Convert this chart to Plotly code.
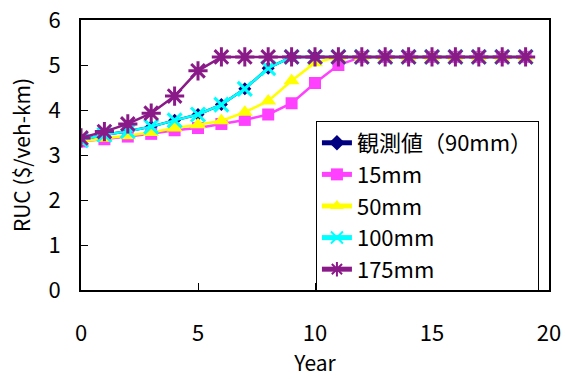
import plotly.graph_objects as go

years = list(range(0, 20))
observed_90mm = [3.33, 3.45, 3.53, 3.63, 3.77, 3.9, 4.12, 4.47, 4.93, 5.18, 5.18, 5.18, 5.18, 5.18, 5.18, 5.18, 5.18, 5.18, 5.18, 5.18]
s15mm = [3.3, 3.35, 3.41, 3.47, 3.55, 3.6, 3.69, 3.78, 3.9, 4.15, 4.6, 5.0, 5.18, 5.18, 5.18, 5.18, 5.18, 5.18, 5.18, 5.18]
s50mm = [3.3, 3.37, 3.43, 3.5, 3.6, 3.67, 3.76, 3.95, 4.2, 4.65, 5.05, 5.18, 5.18, 5.18, 5.18, 5.18, 5.18, 5.18, 5.18, 5.18]
s100mm = [3.33, 3.45, 3.53, 3.63, 3.77, 3.9, 4.12, 4.47, 4.93, 5.18, 5.18, 5.18, 5.18, 5.18, 5.18, 5.18, 5.18, 5.18, 5.18, 5.18]
s175mm = [3.38, 3.52, 3.69, 3.93, 4.31, 4.87, 5.18, 5.18, 5.18, 5.18, 5.18, 5.18, 5.18, 5.18, 5.18, 5.18, 5.18, 5.18, 5.18, 5.18]

names = ["観測値（90mm）", "15mm", "50mm", "100mm", "175mm"]
series = [observed_90mm, s15mm, s50mm, s100mm, s175mm]
colors = ["#000080", "#FF40FF", "#FFFF00", "#00FFFF", "#8B1A89"]
symbols = ["diamond", "square", "triangle-up", "x-thin-open", "asterisk-open"]
sizes = [10, 12, 14, 14, 16]

FONT = "Noto Sans CJK JP"

fig = go.Figure()
for name, vals, c, sym, sz in zip(names, series, colors, symbols, sizes):
    marker = dict(symbol=sym, size=sz, color=c)
    if sym.endswith("open"):
        marker["line"] = dict(color=c, width=3)
    fig.add_trace(go.Scatter(x=years, y=vals, name=name, mode="lines+markers",
                             line=dict(color=c, width=2.5),
                             marker=marker))

fig.update_layout(
    width=565, height=379,
    margin=dict(l=81, r=16, t=20, b=89),
    paper_bgcolor="white", plot_bgcolor="white",
    font=dict(family=FONT, color="black"),
    showlegend=True,
    legend=dict(x=0.502, y=0.626, xanchor="left", yanchor="top",
                bgcolor="white", bordercolor="black", borderwidth=1,
                font=dict(family=FONT, size=22), tracegroupgap=0,
                itemsizing="constant"),
    xaxis=dict(range=[0, 20], tickvals=[0, 5, 10, 15, 20], ticks="inside", ticklen=7,
               tickcolor="black", showline=True, linecolor="black", linewidth=2,
               mirror=True, showgrid=False, zeroline=False, automargin=False,
               tickfont=dict(family=FONT, size=22), ticklabelstandoff=23,
               title=dict(text="Year", font=dict(family=FONT, size=21), standoff=4)),
    yaxis=dict(range=[0, 6], tickvals=[0, 1, 2, 3, 4, 5, 6], ticks="inside", ticklen=7,
               tickcolor="black", showline=True, linecolor="black", linewidth=2,
               mirror=True, showgrid=False, zeroline=False, automargin=False,
               tickfont=dict(family=FONT, size=22), ticklabelstandoff=14,
               title=dict(text="RUC ($/veh-km)", font=dict(family=FONT, size=21), standoff=12)),
)

fig.write_html("out.html", config={"displayModeBar": False},
               post_script="document.body.style.margin='0';")
